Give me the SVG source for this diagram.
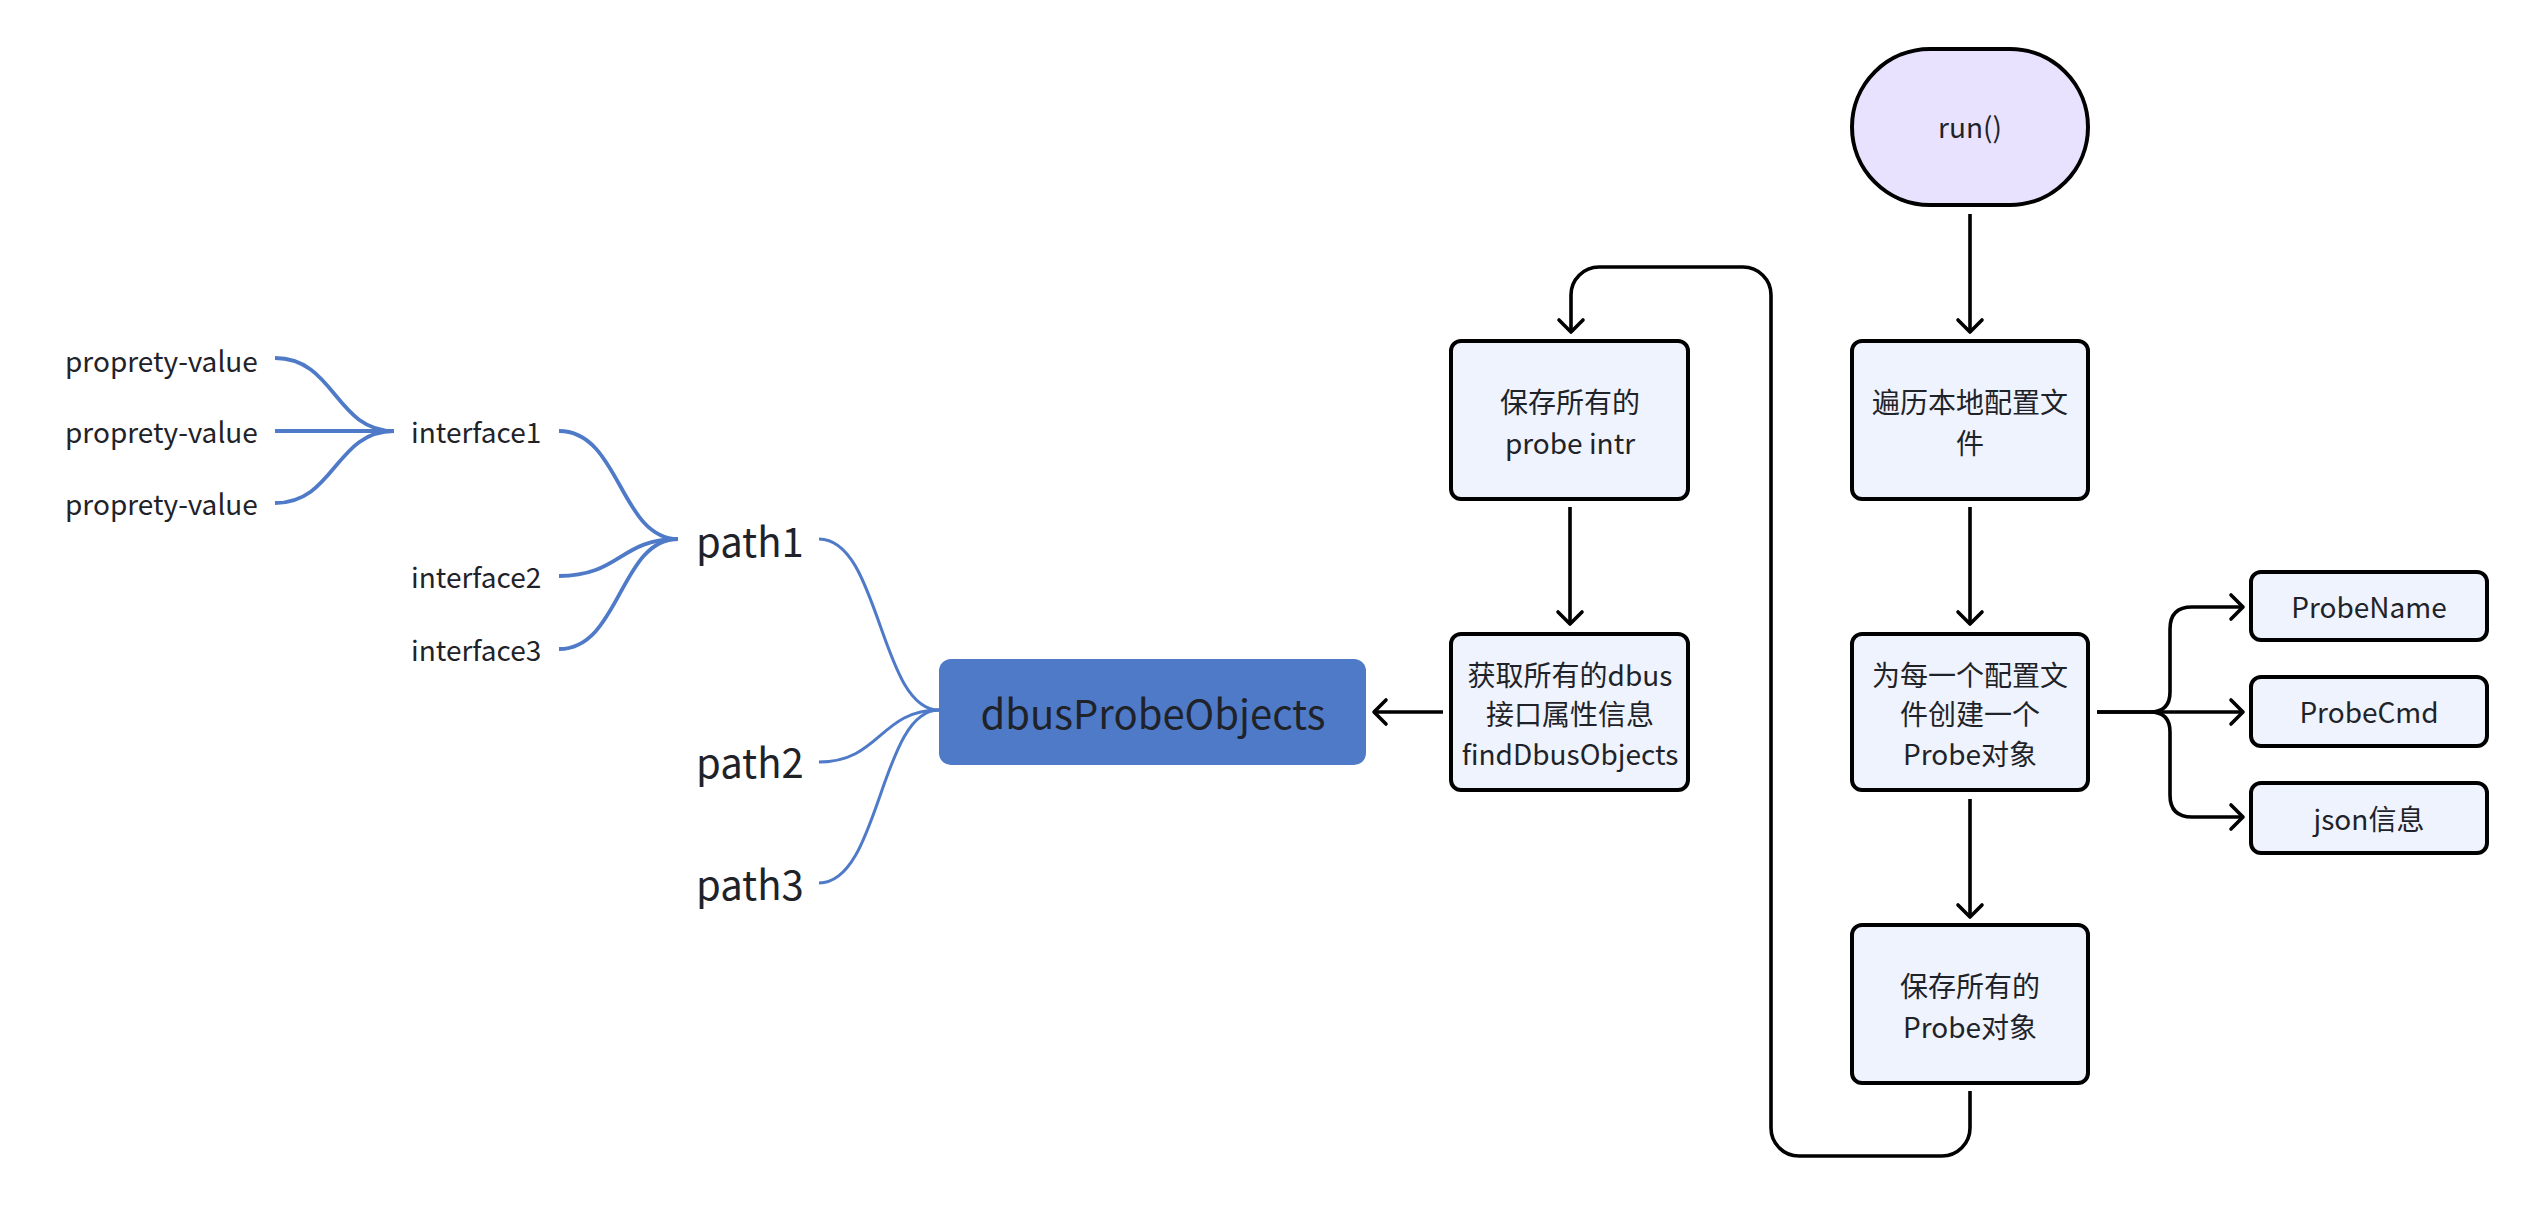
<svg xmlns="http://www.w3.org/2000/svg" width="2540" height="1220" viewBox="0 0 2540 1220">
<defs>
<style>
.t{font-family:"Noto Sans CJK SC","Noto Sans",sans-serif;fill:#1f2329;}
.c{text-anchor:middle;font-size:28px;}
.l{font-size:28px;}
.big{font-size:40px;}
.box{fill:#eef3fd;stroke:#000;stroke-width:4;}
.flow{fill:none;stroke:#000;stroke-width:3.6;}
.mm{fill:none;stroke:#4f7ac8;stroke-width:3.8;}
.mm2{fill:none;stroke:#4f7ac8;stroke-width:3;}
</style>
<marker id="arr" viewBox="-15 -15 30 30" refX="0" refY="0" markerWidth="30" markerHeight="30" markerUnits="userSpaceOnUse" orient="auto">
<path d="M-12,-12 L0,0 L-12,12" fill="none" stroke="#000" stroke-width="3.6" stroke-linejoin="round" stroke-linecap="round"/>
</marker>
</defs>
<rect width="2540" height="1220" fill="#fff"/>

<g id="connectors">
<path class="flow" d="M1970,214 L1970,332" marker-end="url(#arr)"/>
<path class="flow" d="M1970,507 L1970,624" marker-end="url(#arr)"/>
<path class="flow" d="M1970,799 L1970,917" marker-end="url(#arr)"/>
<path class="flow" d="M1570,507 L1570,624" marker-end="url(#arr)"/>
<path class="flow" d="M1443,712 L1374,712" marker-end="url(#arr)"/>
<path class="flow" d="M1970,1091 L1970,1128 A28,28 0 0 1 1942,1156 L1799,1156 A28,28 0 0 1 1771,1128 L1771,295 A28,28 0 0 0 1743,267 L1599,267 A28,28 0 0 0 1571,295 L1571,332" marker-end="url(#arr)"/>
<path class="flow" d="M2097,712 L2150,712 Q2170,712 2170,692 L2170,629 Q2170,607 2192,607 L2243,607" marker-end="url(#arr)"/>
<path class="flow" d="M2097,712 L2243,712" marker-end="url(#arr)"/>
<path class="flow" d="M2150,712 Q2170,712 2170,732 L2170,795 Q2170,817 2192,817 L2243,817" marker-end="url(#arr)"/>

<path class="mm" d="M275,358 C335,358 335,431 394,431"/>
<path class="mm" d="M275,431 L394,431"/>
<path class="mm" d="M275,503 C335,503 335,431 394,431"/>
<path class="mm" d="M559,431 C620,431 620,539 678,539"/>
<path class="mm" d="M559,576 C620,576 620,539 678,539"/>
<path class="mm" d="M559,649 C620,649 620,539 678,539"/>
<path class="mm2" d="M819,539 C880,539 880,710 939,710"/>
<path class="mm2" d="M819,762 C880,762 880,710 939,710"/>
<path class="mm2" d="M819,883 C880,883 880,710 939,710"/>
</g>

<g id="run">
<rect x="1852" y="49" width="236" height="156" rx="78" ry="78" fill="#e8e2fe" stroke="#000" stroke-width="4"/>
<text class="t c" x="1970" y="138">run()</text>
</g>
<g id="traverse">
<rect class="box" x="1852" y="341" width="236" height="158" rx="10"/>
<text class="t c" x="1970" y="413">遍历本地配置文</text>
<text class="t c" x="1970" y="454">件</text>
</g>
<g id="create">
<rect class="box" x="1852" y="634" width="236" height="156" rx="10"/>
<text class="t c" x="1970" y="686">为每一个配置文</text>
<text class="t c" x="1970" y="725">件创建一个</text>
<text class="t c" x="1970" y="765">Probe对象</text>
</g>
<g id="saveProbe">
<rect class="box" x="1852" y="925" width="236" height="158" rx="10"/>
<text class="t c" x="1970" y="997">保存所有的</text>
<text class="t c" x="1970" y="1038">Probe对象</text>
</g>
<g id="saveIntr">
<rect class="box" x="1451" y="341" width="237" height="158" rx="10"/>
<text class="t c" x="1570" y="413">保存所有的</text>
<text class="t c" x="1570" y="454">probe intr</text>
</g>
<g id="findDbus">
<rect class="box" x="1451" y="634" width="237" height="156" rx="10"/>
<text class="t c" x="1570" y="686">获取所有的dbus</text>
<text class="t c" x="1570" y="725">接口属性信息</text>
<text class="t c" x="1570" y="765">findDbusObjects</text>
</g>
<g id="probeName">
<rect class="box" x="2251" y="572" width="236" height="68" rx="10"/>
<text class="t c" x="2369" y="618">ProbeName</text>
</g>
<g id="probeCmd">
<rect class="box" x="2251" y="677" width="236" height="69" rx="10"/>
<text class="t c" x="2369" y="723">ProbeCmd</text>
</g>
<g id="jsonInfo">
<rect class="box" x="2251" y="783" width="236" height="70" rx="10"/>
<text class="t c" x="2369" y="830">json信息</text>
</g>

<g id="dbusProbeObjects">
<rect x="939" y="659" width="427" height="106" rx="12" fill="#4f7ac8"/>
<text class="t big" x="1153" y="729" text-anchor="middle">dbusProbeObjects</text>
</g>
<g id="path1"><text class="t big" x="696" y="557">path1</text></g>
<g id="path2"><text class="t big" x="696" y="778">path2</text></g>
<g id="path3"><text class="t big" x="696" y="900">path3</text></g>
<g id="interface1"><text class="t l" x="411" y="443">interface1</text></g>
<g id="interface2"><text class="t l" x="411" y="588">interface2</text></g>
<g id="interface3"><text class="t l" x="411" y="661">interface3</text></g>
<g id="pv1"><text class="t l" x="65" y="372">proprety-value</text></g>
<g id="pv2"><text class="t l" x="65" y="443">proprety-value</text></g>
<g id="pv3"><text class="t l" x="65" y="515">proprety-value</text></g>
</svg>
